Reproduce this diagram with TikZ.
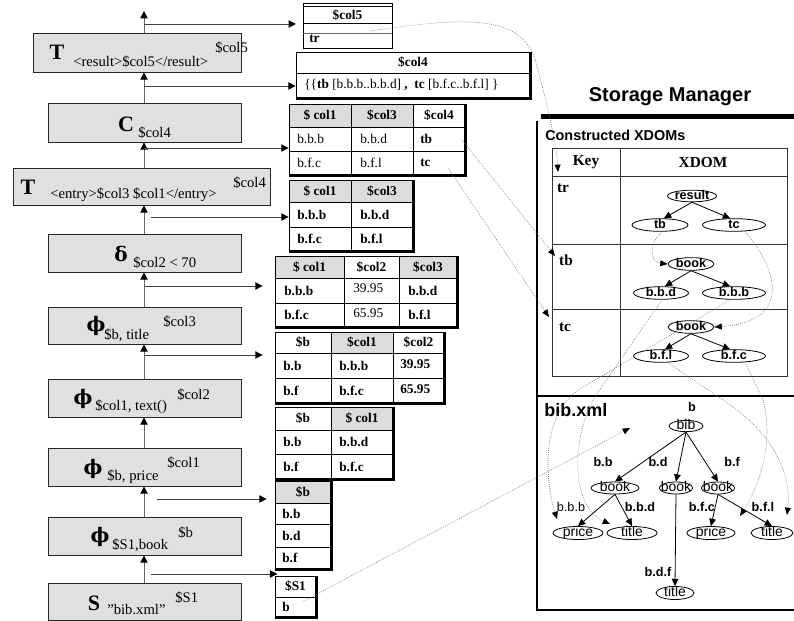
\documentclass[tikz,border=0pt]{standalone}
\usepackage{amsmath}
\usepackage{fontspec}
\setmainfont{Liberation Serif}
\setsansfont{Liberation Sans}
\newfontfamily\grkfont{DejaVu Serif}
\usetikzlibrary{arrows.meta,shapes.geometric,fit}
\newcommand{\CTXT}[1]{\makebox[0pt]{\raisebox{-0.45ex}[0pt][0pt]{#1}}}
\newcommand{\GRK}[1]{{\grkfont\bfseries\fontsize{15}{17}\selectfont #1}}
\definecolor{opgray}{RGB}{224,224,224}
\definecolor{hdgray}{RGB}{220,220,220}

\tikzset{
  opbox/.style={draw=black!85, fill=opgray, line width=0.6pt, inner sep=0pt},
  opsym/.style={inner sep=0pt, font=\fontsize{16.5}{18}\selectfont\bfseries},
  opsub/.style={inner sep=0pt, anchor=west, font=\fontsize{11}{13}\selectfont},
  flow/.style={draw=black!60, line width=0.75pt, -{Triangle[length=5.5pt,width=5.5pt,color=black]}},
  feed/.style={draw=black!75, line width=0.75pt, -{Triangle[length=5.5pt,width=5.5pt,color=black]}},
  tabl/.style={draw=black, line width=0.6pt, inner sep=0pt},
  tline/.style={draw=black, line width=0.6pt},
  tshade/.style={draw=black, line width=1.8pt},
  hd/.style={inner sep=0pt, font=\fontsize{10}{12}\selectfont\bfseries},
  cl/.style={inner sep=0pt, anchor=west, font=\fontsize{10}{12}\selectfont},
  clb/.style={cl, font=\fontsize{10}{12}\selectfont\bfseries},
  sgrid/.style={draw=black!80, line width=0.6pt},
  kfont/.style={inner sep=0pt, font=\fontsize{11.5}{13}\selectfont\bfseries},
  xnode/.style={draw, ellipse, inner sep=0pt, line width=0.6pt, font=\sffamily\bfseries\fontsize{9.5}{11}\selectfont},
  bnode/.style={draw, ellipse, inner sep=0pt, line width=0.6pt, font=\sffamily\fontsize{10.5}{12}\selectfont},
  blab/.style={inner sep=0pt, font=\sffamily\bfseries\fontsize{9.5}{11}\selectfont},
  tree/.style={line width=0.6pt, -{Triangle[length=5.5pt,width=5pt]}},
  link/.style={draw=black!55, line width=0.5pt, densely dotted, -{Triangle[length=5.5pt,width=4.5pt,color=black]}},
}

\begin{document}
\begin{tikzpicture}[x=0.75pt, y=-0.75pt]
    \useasboundingbox (0,0) rectangle (794,621);

    % operator boxes
    \node[opbox, fit={(33,33) (241,72)}] (tres) {};
    \node[opsym] (tresop) at (57,52) {T};
    \node[opsub] (tressub) at (73,62) {<result>\$col5</result>};
    \node[opsub] (tressup) at (215,48) {\$col5};

    \node[opbox, fit={(48,103) (241,142)}] (cons) {};
    \node[opsym] (consop) at (126,124) {C};
    \node[opsub] (conssub) at (138,133) {\$col4};

    \node[opbox, fit={(13,168) (270,205)}] (tent) {};
    \node[opsym] (tentop) at (28,187) {T};
    \node[opsub] (tentsub) at (50,195) {<entry>\$col3 \$col1</entry>};
    \node[opsub] (tentsup) at (233,183) {\$col4};

    \node[opbox, fit={(48,234) (241,272)}] (sel) {};
    \node[inner sep=0pt] (selop) at (121,254) {\GRK{δ}};
    \node[opsub] (selsub) at (133,263) {\$col2 < 70};

    \node[opbox, fit={(48,307) (241,344)}] (phtitle) {};
    \node[inner sep=0pt] (phtitleop) at (96,326) {\GRK{ϕ}};
    \node[opsub] (phtitlesub) at (104,335) {\$b, title};
    \node[opsub] (phtitlesup) at (163,322) {\$col3};

    \node[opbox, fit={(48,379) (241,417)}] (phtext) {};
    \node[inner sep=0pt] (phtextop) at (83,399) {\GRK{ϕ}};
    \node[opsub] (phtextsub) at (95,407) {\$col1, text()};
    \node[opsub] (phtextsup) at (177,395) {\$col2};

    \node[opbox, fit={(48,448) (241,486)}] (phprice) {};
    \node[inner sep=0pt] (phpriceop) at (93,469) {\GRK{ϕ}};
    \node[opsub] (phpricesub) at (107,477) {\$b, price};
    \node[opsub] (phpricesup) at (167,463) {\$col1};

    \node[opbox, fit={(48,517) (241,555)}] (phbook) {};
    \node[inner sep=0pt] (phbookop) at (100,537) {\GRK{ϕ}};
    \node[opsub] (phbooksub) at (112,545) {\$S1,book};
    \node[opsub] (phbooksup) at (178,533) {\$b};

    \node[opbox, fit={(48,583) (241,620)}] (scan) {};
    \node[opsym] (scanop) at (94,603) {S};
    \node[opsub] (scansub) at (107,610) {"bib.xml"};
    \node[opsub] (scansup) at (175,598) {\$S1};

    % data flow
    \coordinate (fx) at (144,0);
    \coordinate (top) at (144,11);
    \draw[flow] (tres.north -| fx) -- (top);
    \foreach \a/\b in {cons/tres, tent/cons, sel/tent, phtitle/sel, phtext/phtitle,
                       phprice/phtext, phbook/phprice, scan/phbook} {
        \draw[flow] (\a.north -| fx) -- (\b.south -| fx);
    }

    % tables
    \node[tabl, fit={(303,3) (392,48)}] (tab1) {};
    \draw[tline] (303,6) -- (392,6);
    \draw[tline] (303,23) -- (392,23);
    \draw[tline, draw=black!60] (303,33) -- (392,33);
    \node[hd] (t1h) at (347.5,15) {\$col5};
    \node[clb] (t1tr) at (309,39) {tr};

    \node[tabl, fit={(296,52) (530,98)}] (tab2) {};
    \draw[tline] (296,73) -- (530,73);
    \draw[tshade] (tab2.north east) -- (tab2.south east) -- (tab2.south west);
    \node[hd] (t2h) at (413,62.5) {\$col4};
    \node[cl] (t2r) at (304,85) {\{\{\textbf{tb} [b.b.b..b.b.d] \textbf{,}\ \ \textbf{tc} [b.f.c..b.f.l] \}};

    \fill[hdgray] (289,104) rectangle (413,127);
    \node[tabl, fit={(289,104) (465,175)}] (tab3) {};
    \foreach \y in {127,151} { \draw[tline] (289,\y) -- (465,\y); }
    \foreach \x in {351,413} { \draw[tline] (\x,104) -- (\x,175); }
    \draw[tshade] (tab3.north east) -- (tab3.south east) -- (tab3.south west);
    \node[hd] (t3h1) at (320,115.5) {\$ col1};
    \node[hd] (t3h2) at (382,115.5) {\$col3};
    \node[hd] (t3h3) at (439,115.5) {\$col4};
    \node[cl] (t3a1) at (297,139) {b.b.b};
    \node[cl] (t3a2) at (360,139) {b.b.d};
    \node[clb] (t3a3) at (420,139) {tb};
    \node[cl] (t3b1) at (297,163) {b.f.c};
    \node[cl] (t3b2) at (360,163) {b.f.l};
    \node[clb] (t3b3) at (420,163) {tc};

    \fill[hdgray] (289,180) rectangle (413,202);
    \node[tabl, fit={(289,180) (413,251)}] (tab4) {};
    \foreach \y in {202,227} { \draw[tline] (289,\y) -- (413,\y); }
    \draw[tline] (351,180) -- (351,251);
    \draw[tshade] (tab4.north east) -- (tab4.south east) -- (tab4.south west);
    \node[hd] (t4h1) at (320,191) {\$ col1};
    \node[hd] (t4h2) at (382,191) {\$col3};
    \node[clb] (t4a1) at (297,214.5) {b.b.b};
    \node[clb] (t4a2) at (360,214.5) {b.b.d};
    \node[clb] (t4b1) at (297,239) {b.f.c};
    \node[clb] (t4b2) at (360,239) {b.f.l};

    \fill[hdgray] (275,256) rectangle (344,278);
    \fill[hdgray] (399,256) rectangle (457,278);
    \node[tabl, fit={(275,256) (457,327)}] (tab5) {};
    \foreach \y in {278,303} { \draw[tline] (275,\y) -- (457,\y); }
    \foreach \x in {344,399} { \draw[tline] (\x,256) -- (\x,327); }
    \draw[tshade] (tab5.north east) -- (tab5.south east) -- (tab5.south west);
    \node[hd] (t5h1) at (309.5,267) {\$ col1};
    \node[hd] (t5h2) at (371.5,267) {\$col2};
    \node[hd] (t5h3) at (428,267) {\$col3};
    \node[clb] (t5a1) at (284,290.5) {b.b.b};
    \node[cl] (t5a2) at (353,288.5) {39.95};
    \node[clb] (t5a3) at (408,290.5) {b.b.d};
    \node[clb] (t5b1) at (284,315) {b.f.c};
    \node[cl] (t5b2) at (353,313) {65.95};
    \node[clb] (t5b3) at (408,315) {b.f.l};

    \fill[hdgray] (331,332) rectangle (393,353);
    \node[tabl, fit={(275,332) (444,403)}] (tab6) {};
    \foreach \y in {353,378} { \draw[tline] (275,\y) -- (444,\y); }
    \foreach \x in {331,393} { \draw[tline] (\x,332) -- (\x,403); }
    \draw[tshade] (tab6.north east) -- (tab6.south east) -- (tab6.south west);
    \node[hd] (t6h1) at (303,342.5) {\$b};
    \node[hd] (t6h2) at (362,342.5) {\$col1};
    \node[hd] (t6h3) at (418.5,342.5) {\$col2};
    \node[clb] (t6a1) at (283,365.5) {b.b};
    \node[clb] (t6a2) at (339,365.5) {b.b.b};
    \node[clb] (t6a3) at (400,364) {39.95};
    \node[clb] (t6b1) at (283,390.5) {b.f};
    \node[clb] (t6b2) at (339,390.5) {b.f.c};
    \node[clb] (t6b3) at (400,389) {65.95};

    \fill[hdgray] (331,407) rectangle (393,430);
    \node[tabl, fit={(275,407) (393,479)}] (tab7) {};
    \foreach \y in {430,454} { \draw[tline] (275,\y) -- (393,\y); }
    \draw[tline] (331,407) -- (331,479);
    \draw[tshade] (tab7.north east) -- (tab7.south east) -- (tab7.south west);
    \node[hd] (t7h1) at (303,418.5) {\$b};
    \node[hd] (t7h2) at (362,418.5) {\$ col1};
    \node[clb] (t7a1) at (283,442) {b.b};
    \node[clb] (t7a2) at (339,442) {b.b.d};
    \node[clb] (t7b1) at (283,466.5) {b.f};
    \node[clb] (t7b2) at (339,466.5) {b.f.c};

    \fill[hdgray] (275,481) rectangle (331,503);
    \node[tabl, fit={(275,481) (331,569)}] (tab8) {};
    \foreach \y in {503,524,547} { \draw[tline] (275,\y) -- (331,\y); }
    \draw[tshade] (tab8.north east) -- (tab8.south east) -- (tab8.south west);
    \node[hd] (t8h) at (303,492) {\$b};
    \node[clb] (t8a) at (282,513.5) {b.b};
    \node[clb] (t8b) at (282,535.5) {b.d};
    \node[clb] (t8c) at (282,558) {b.f};

    \node[tabl, fit={(275,576) (316,617)}] (tab9) {};
    \draw[tline] (275,597) -- (316,597);
    \draw[tshade] (tab9.north east) -- (tab9.south east) -- (tab9.south west);
    \node[hd] (t9h) at (295.5,586.5) {\$S1};
    \node[clb] (t9b) at (282,607) {b};

    % results fed to the tables
    \coordinate (br1) at (144,24);
    \coordinate (br2) at (144,86);
    \coordinate (br3) at (144,148);
    \coordinate (br4) at (151,217);
    \coordinate (br5) at (145,286);
    \coordinate (br6) at (145,355);
    \coordinate (br7) at (157,499);
    \coordinate (br8) at (151,574);
    \foreach \c/\t/\s in {br1/tab1/5pt, br2/tab2/0pt, br3/tab3/0pt, br4/tab4/0pt,
                          br5/tab5/9pt, br6/tab6/9pt, br7/tab8/6pt, br8/tab9/-2pt} {
        \draw[feed, shorten >=\s] (\c) -- (\c -| \t.west);
    }

    % storage manager
    \node[inner sep=0pt, font=\sffamily\bfseries\fontsize{15}{18}\selectfont] (smtitle) at (670,97) {Storage Manager};
    \fill (541,114) rectangle (794,119);
    \draw[line width=0.8pt] (537,121) -- (537,610) -- (794,610);
    \draw[line width=2pt] (537,396) -- (794,396);
    \node[anchor=west, inner sep=0pt, font=\sffamily\bfseries\fontsize{10.8}{13}\selectfont] (xdlabel) at (545,135) {Constructed XDOMs};

    \draw[sgrid] (552,148) rectangle (787,376);
    \foreach \y in {176,244,309} { \draw[sgrid] (552,\y) -- (787,\y); }
    \draw[sgrid] (620,148) -- (620,376);
    \node[kfont] (keyh) at (586,162) {Key};
    \node[kfont] (xdomh) at (703,162) {XDOM};
    \node[kfont] (ktr) at (563,188) {tr};
    \node[kfont] (ktb) at (566,260) {tb};
    \node[kfont] (ktc) at (565,327) {tc};

    \node[xnode, minimum width=36.75pt, minimum height=8.75pt] (xres) at (692,196) {\CTXT{result}};
    \node[xnode, minimum width=42pt, minimum height=9.5pt] (xtb) at (660,225) {\CTXT{tb}};
    \node[xnode, minimum width=47.25pt, minimum height=9.5pt] (xtc) at (734,225) {\CTXT{tc}};
    \node[xnode, minimum width=34.5pt, minimum height=9.5pt] (xbk1) at (691,264) {\CTXT{book}};
    \node[xnode, minimum width=41.25pt, minimum height=9.5pt] (xbbd) at (661,293) {\CTXT{b.b.d}};
    \node[xnode, minimum width=47.25pt, minimum height=9.5pt] (xbbb) at (734,293) {\CTXT{b.b.b}};
    \node[xnode, minimum width=34.5pt, minimum height=9.5pt] (xbk2) at (691,327) {\CTXT{book}};
    \node[xnode, minimum width=41.25pt, minimum height=9.5pt] (xbfl) at (661,356) {\CTXT{b.f.l}};
    \node[xnode, minimum width=47.25pt, minimum height=9.5pt] (xbfc) at (734,356) {\CTXT{b.f.c}};
    \draw[tree] (xres.south) -- (xtb.60);
    \draw[tree] (xres.south) -- (xtc.120);
    \draw[tree] (xbk1.south) -- (xbbd.60);
    \draw[tree] (xbk1.south) -- (xbbb.120);
    \draw[tree] (xbk2.south) -- (xbfl.60);
    \draw[tree] (xbk2.south) -- (xbfc.120);

    % bib.xml
    \node[anchor=west, inner sep=0pt, font=\sffamily\bfseries\fontsize{13.5}{16}\selectfont] (biblabel) at (544,410) {bib.xml};
    \node[bnode, minimum width=25.5pt, minimum height=8.5pt] (xbib) at (686,426) {\CTXT{bib}};
    \node[bnode, minimum width=36pt, minimum height=9pt] (bbk1) at (615,488) {\CTXT{book}};
    \node[bnode, minimum width=25pt, minimum height=9pt] (bbk2) at (676,488) {\CTXT{book}};
    \node[bnode, minimum width=25pt, minimum height=9pt] (bbk3) at (718,488) {\CTXT{book}};
    \node[bnode, minimum width=37.5pt, minimum height=9.75pt] (bpr1) at (578,533) {\CTXT{price}};
    \node[bnode, minimum width=37.5pt, minimum height=9.75pt] (btt1) at (632,533) {\CTXT{title}};
    \node[bnode, minimum width=36pt, minimum height=9.75pt] (bpr2) at (711,533) {\CTXT{price}};
    \node[bnode, minimum width=31.5pt, minimum height=9.75pt] (btt2) at (772,533) {\CTXT{title}};
    \node[bnode, minimum width=28.5pt, minimum height=9.75pt] (btt3) at (675,593) {\CTXT{title}};
    \draw[tree] (xbib.south) -- (bbk1.north);
    \draw[tree] (xbib.south) -- (bbk2.north);
    \draw[tree] (xbib.south) -- (bbk3.north);
    \draw[tree] (bbk1.south) -- (bpr1.north);
    \draw[tree] (bbk1.south) -- (btt1.north);
    \draw[tree] (bbk2.south) -- (btt3.north);
    \draw[tree] (bbk3.south) -- (bpr2.north);
    \draw[tree] (bbk3.south) -- (btt2.north);
    \node[blab] (lb) at (692,407) {b};
    \node[blab] (lbb) at (603,462) {b.b};
    \node[blab] (lbd) at (658,462) {b.d};
    \node[blab] (lbf) at (732,462) {b.f};
    \node[blab, font=\sffamily\fontsize{9.5}{11}\selectfont] (lbbb) at (571,507) {b.b.b};
    \node[blab] (lbbd) at (640,507) {b.b.d};
    \node[blab] (lbfc) at (702,507) {b.f.c};
    \node[blab] (lbfl) at (763,507) {b.f.l};
    \node[blab] (lbdf) at (658,572) {b.d.f};

    % references into the storage manager
    \coordinate (trsrc) at (370,31);
    \coordinate (keytip) at (558,172);
    \coordinate (tbsrc) at (462,140);
    \coordinate (tbtip) at (555,256);
    \coordinate (tcsrc) at (448,168);
    \coordinate (tctip) at (549,317);
    \coordinate (pr1tip) at (557,519);
    \coordinate (tt1tip) at (610,524);
    \coordinate (pr2tip) at (740,516);
    \coordinate (tt2tip) at (787,515);
    \coordinate (s1src) at (302,602);
    \coordinate (bibtip) at (630,428);
    \draw[link] (trsrc) .. controls (460,18) and (522,12) .. (536,62) .. controls (546,100) and (556,140) .. (keytip);
    \draw[link] (tbsrc) -- (tbtip);
    \draw[link] (tcsrc) -- (tctip);
    \draw[link] (xtb.-70) .. controls (650,240) and (648,262) .. (xbk1.west);
    \draw[link] (xtc.-30) .. controls (782,275) and (788,322) .. (xbk2.east);
    \draw[link] (xbbd.-80) -- (598,392) .. controls (572,430) and (568,505) .. (tt1tip);
    \draw[link] (xbbb.-120) -- (580,389) .. controls (540,415) and (545,480) .. (pr1tip);
    \draw[link] (xbfl.-45) -- (720,398) .. controls (770,430) and (792,470) .. (tt2tip);
    \draw[link] (xbfc.-30) -- (763,400) .. controls (775,445) and (757,490) .. (pr2tip);
    \draw[link] (s1src) -- (bibtip);
\end{tikzpicture}
\end{document}
